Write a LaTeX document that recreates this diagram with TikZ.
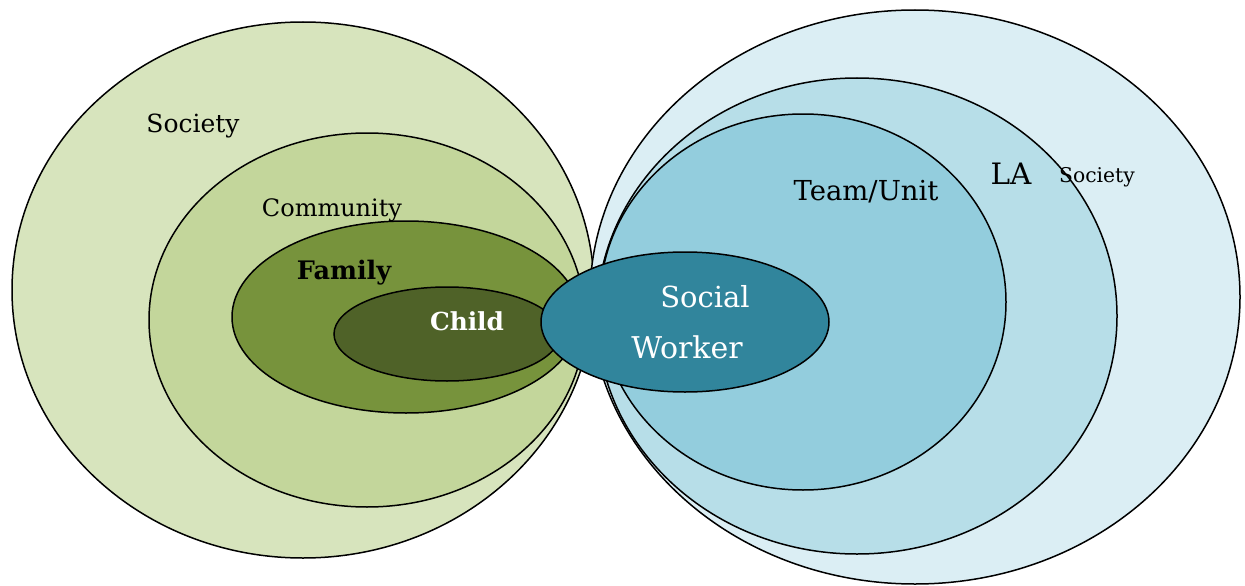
\documentclass[tikz,border=0pt]{standalone}
\usepackage{fontspec}
\setmainfont{DejaVu Serif}
\definecolor{gSoc}{HTML}{D7E4BD}
\definecolor{gCom}{HTML}{C3D69B}
\definecolor{gFam}{HTML}{77933C}
\definecolor{gChi}{HTML}{4F6228}
\definecolor{bSoc}{HTML}{DBEEF4}
\definecolor{bLA}{HTML}{B7DEE8}
\definecolor{bTeam}{HTML}{93CDDD}
\definecolor{bSW}{HTML}{31859C}
\tikzset{ring/.style={draw=black, line width=1.5pt},
  lbl/.style={inner sep=0pt, anchor=center}}
\begin{document}
\begin{tikzpicture}[x=1pt,y=-1pt]
\useasboundingbox (0,0) rectangle (1245,586);
% left group
\path[ring, fill=gSoc] (303,290) ellipse [x radius=291, y radius=268];
\path[ring, fill=gCom] (367,320) ellipse [x radius=218, y radius=187];
\path[ring, fill=gFam] (406,317) ellipse [x radius=174, y radius=96];
\path[ring, fill=gChi] (447,334) ellipse [x radius=113, y radius=47];
% right group
\path[ring, fill=bSoc] (915,297) ellipse [x radius=325, y radius=287];
\path[ring, fill=bLA] (857,316) ellipse [x radius=260, y radius=238];
\path[ring, fill=bTeam] (803,302) ellipse [x radius=203, y radius=188];
\path[ring, fill=bSW] (685,322) ellipse [x radius=144, y radius=70];
% labels
\node[lbl] (tSocL) at (193,126) {\fontsize{25}{30}\selectfont Society};
\node[lbl] (tCom) at (332,210) {\fontsize{24}{28}\selectfont Community};
\node[lbl] (tFam) at (344,273) {\fontsize{25.5}{30}\selectfont\bfseries Family};
\node[lbl, text=white] (tChi) at (467,321) {\fontsize{24.8}{30}\selectfont\bfseries Child};
\node[lbl, text=white] (tSW1) at (705,297) {\fontsize{29}{34}\selectfont Social};
\node[lbl, text=white] (tSW2) at (687,347) {\fontsize{30}{34}\selectfont Worker};
\node[lbl] (tTeam) at (866,192) {\fontsize{27.5}{32}\selectfont Team/Unit};
\node[lbl] (tLA) at (1011,174) {\fontsize{29.5}{34}\selectfont LA};
\node[lbl] (tSocR) at (1097,177) {\fontsize{20.3}{24}\selectfont Society};
\end{tikzpicture}
\end{document}
